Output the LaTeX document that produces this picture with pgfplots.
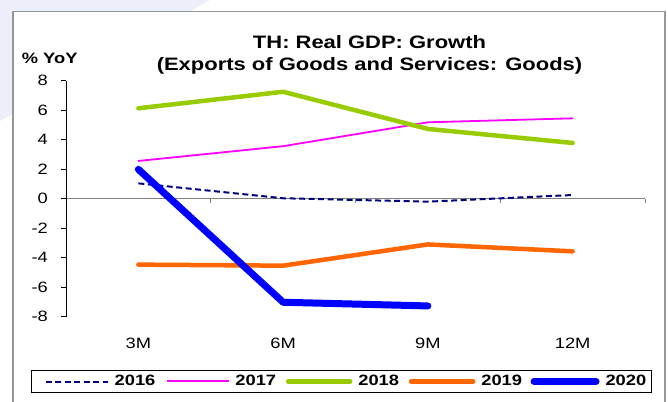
\documentclass[border=0pt]{standalone}
\usepackage{pgfplots}
\pgfplotsset{compat=1.18}
\usepackage{fontspec}
\setmainfont{Liberation Sans}[FakeStretch=1.22]
\definecolor{navyC}{RGB}{0,0,128}
\definecolor{magC}{RGB}{255,0,255}
\definecolor{greenC}{RGB}{153,204,0}
\definecolor{orangeC}{RGB}{255,102,0}
\definecolor{blueC}{RGB}{0,0,255}
\definecolor{framegray}{RGB}{150,150,150}
\definecolor{bgl}{RGB}{236,238,250}
\begin{document}
\begin{tikzpicture}[x=1pt,y=1pt]
\useasboundingbox (0,0) rectangle (668,401);
\fill[white] (0,0) rectangle (668,401);
\fill[bgl] (0,401) -- (210,401) -- (0,280) -- cycle;
\fill[white] (12.8,-5) rectangle (665,389.3);
\draw[framegray, line width=1.5pt] (12.8,-5) -- (12.8,389.3) -- (665,389.3) -- (665,-5);
\node[anchor=base, inner sep=0pt, font=\bfseries\fontsize{18}{20}\selectfont] at (369.5,352.7) {TH: Real GDP: Growth};
\node[anchor=base, inner sep=0pt, font=\bfseries\fontsize{18}{20}\selectfont] at (369.5,330.3) {(Exports of Goods and Services: Goods)};
\node[anchor=base west, inner sep=0pt, font=\bfseries\fontsize{15}{18}\selectfont] at (21.7,337.7) {\% YoY};
% zero line with category ticks
\begin{axis}[
  at={(66pt,84.3pt)}, anchor=south west,
  scale only axis, width=579pt, height=236pt,
  xmin=-0.5, xmax=3.5, ymin=-8, ymax=8,
  axis x line=middle, axis y line=none,
  x axis line style={-, draw=gray, line width=1pt},
  xtick={-0.5,0.5,1.5,2.5,3.5}, xticklabels={},
  ytick=\empty,
  tick align=outside, major tick length=4.5pt,
  x tick style={gray, line width=1pt},
]
\end{axis}
\begin{axis}[
  at={(66pt,84.3pt)}, anchor=south west,
  scale only axis, width=579pt, height=236pt,
  xmin=-0.5, xmax=3.5, ymin=-8, ymax=8,
  axis lines*=left,
  x axis line style={draw=none},
  y axis line style={black, line width=0.8pt},
  xtick={0,1,2,3}, xticklabels={3M,6M,9M,12M},
  x tick style={draw=none},
  ytick={-8,-6,-4,-2,0,2,4,6,8},
  yticklabels={-8,-6,-4,-2,0,2,4,6,8},
  y tick style={black, line width=0.8pt},
  tick align=outside, major tick length=5pt,
  ticklabel style={font=\fontsize{15}{18}\selectfont},
  xticklabel style={anchor=base, inner sep=0pt, yshift=-26.6pt},
  yticklabel style={anchor=east, inner sep=0pt, xshift=-13pt},
  clip=false,
  legend columns=5,
  legend image code/.code={\path[draw=none] (0pt,0pt) -- (10pt,0pt); \draw[#1] (10pt,0pt) -- (72pt,0pt);},
  legend style={name=leg, at={(0.4758,-0.2746)}, anchor=center, draw=none,
    inner xsep=4pt, inner ysep=4pt,
    font=\bfseries\fontsize{15}{18}\selectfont,
    nodes={inner sep=1pt},
    /tikz/every odd column/.append style={column sep=5pt},
    /tikz/every even column/.append style={column sep=1pt}},
]
\addplot[draw=navyC, line width=2pt, dash pattern=on 6pt off 3.5pt] coordinates {(0,1.04) (1,0.03) (2,-0.2) (3,0.25)};
\addlegendentry{2016}
\addplot[forget plot, draw=magC, line width=1.8pt, line cap=round, line join=round] coordinates {(0,2.56) (1,3.56) (2,5.18) (3,5.45)};
\addlegendimage{legend image code/.code={\path[draw=none] (0pt,0pt) -- (10pt,0pt); \node[anchor=west, inner sep=0pt, outer sep=0pt] at (10pt,0pt) {\textcolor{magC}{\rule{62pt}{1.8pt}}};}}
\addlegendentry{2017}
\addplot[draw=greenC, line width=4.5pt, line cap=round, line join=round] coordinates {(0,6.13) (1,7.25) (2,4.73) (3,3.78)};
\addlegendentry{2018}
\addplot[draw=orangeC, line width=4.5pt, line cap=round, line join=round] coordinates {(0,-4.47) (1,-4.54) (2,-3.1) (3,-3.57)};
\addlegendentry{2019}
\addplot[draw=blueC, line width=7pt, line cap=round, line join=round] coordinates {(0,1.99) (1,-7.02) (2,-7.27)};
\addlegendentry{2020}
\end{axis}
\draw[black, line width=0.8pt] (leg.south west) rectangle (leg.north east);
\end{tikzpicture}
\end{document}
